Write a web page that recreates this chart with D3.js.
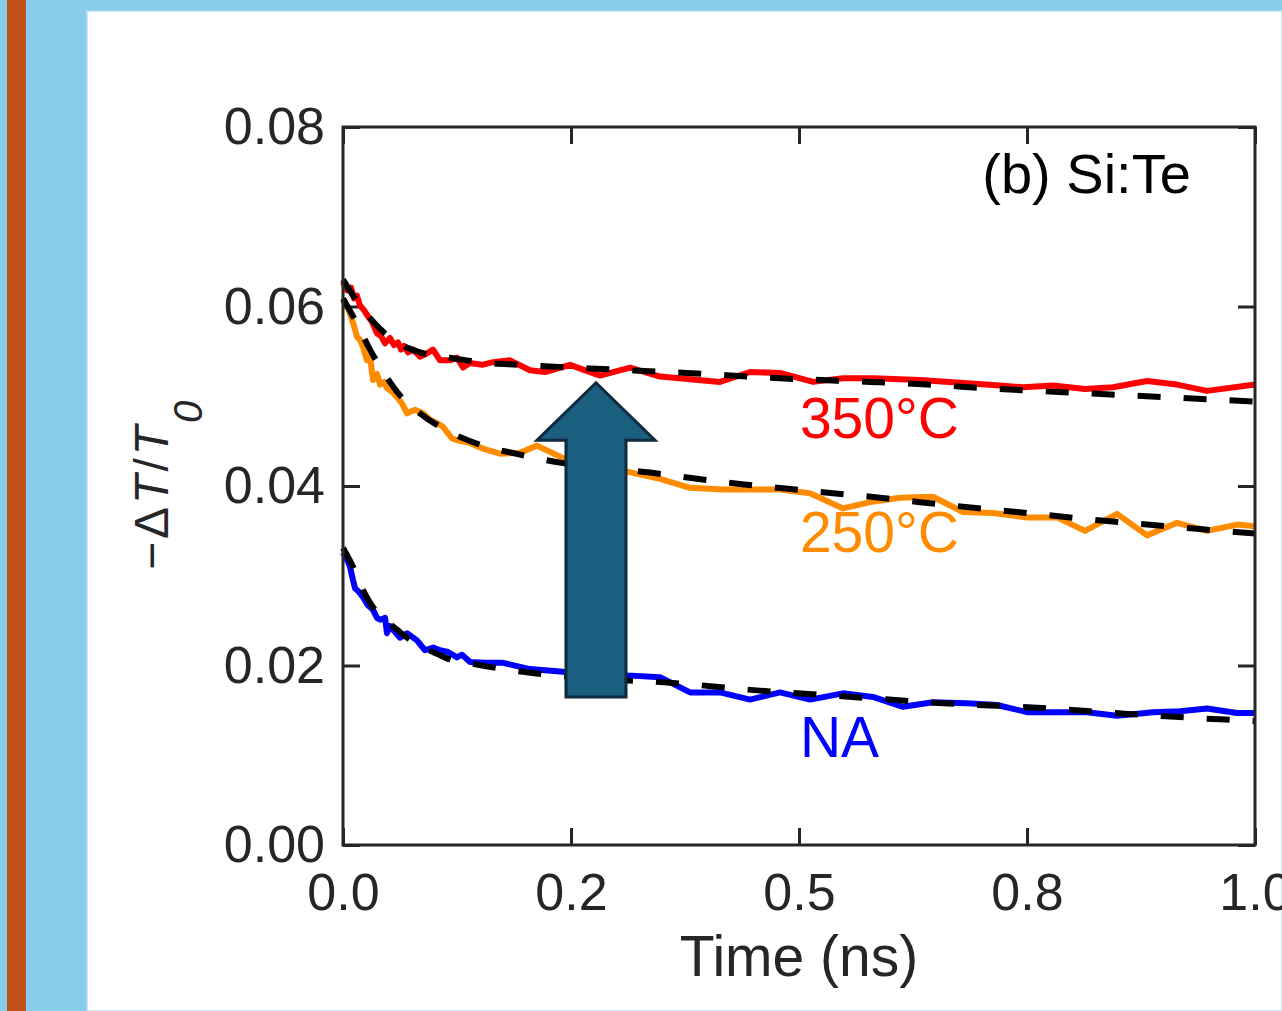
<!DOCTYPE html>
<html>
<head>
<meta charset="utf-8">
<script src="https://cdn.jsdelivr.net/npm/d3@7"></script>
<style>
  body { margin: 0; background: #87cceb; }
  .chart { position: relative; width: 1282px; height: 1011px; overflow: hidden; }
  text { font-family: "Liberation Sans", Arial, sans-serif; }
</style>
</head>
<body>
<div class="chart"></div>
<script>
// measured traces, time (ns) vs -dT/T0
var na = [[0,0.0326],[0.0044,0.0318],[0.0077,0.0310],[0.0110,0.0295],[0.0132,0.0286],[0.0175,0.0282],
  [0.0219,0.0276],[0.0274,0.0267],[0.0329,0.0262],[0.0373,0.0253],[0.0406,0.0251],[0.0461,0.0253],
  [0.0482,0.0236],[0.0515,0.0244],[0.0548,0.0240],[0.0625,0.0231],[0.0702,0.0236],[0.0811,0.0228],
  [0.0899,0.0217],[0.0987,0.0220],[0.1064,0.0217],[0.1151,0.0215],[0.1250,0.0209],[0.1305,0.0212],
  [0.1393,0.0204],[0.1557,0.0203],[0.1754,0.0203],[0.2050,0.0196],[0.2412,0.0193],[0.2785,0.0192],
  [0.3114,0.0189],[0.3476,0.0187],[0.3805,0.0170],[0.4134,0.0170],[0.4463,0.0162],[0.4792,0.0170],
  [0.5121,0.0162],[0.5482,0.0169],[0.5811,0.0165],[0.6140,0.0154],[0.6469,0.0159],[0.6842,0.0158],
  [0.7171,0.0156],[0.7500,0.0148],[0.7829,0.0148],[0.8158,0.0148],[0.8487,0.0144],[0.8882,0.0148],
  [0.9178,0.0149],[0.9474,0.0152],[0.9803,0.0147],[1.0,0.0147]];

var c250 = [[0,0.0607],[0.0055,0.0598],[0.0110,0.0582],[0.0154,0.0566],[0.0186,0.0563],[0.0219,0.0555],
  [0.0263,0.0540],[0.0296,0.0545],[0.0329,0.0518],[0.0373,0.0525],[0.0406,0.0513],[0.0450,0.0516],
  [0.0482,0.0509],[0.0537,0.0505],[0.0592,0.0499],[0.0647,0.0492],[0.0702,0.0481],[0.0789,0.0485],
  [0.0877,0.0481],[0.0954,0.0474],[0.1031,0.0470],[0.1096,0.0466],[0.1195,0.0453],[0.1283,0.0450],
  [0.1393,0.0448],[0.1524,0.0442],[0.1721,0.0436],[0.1941,0.0437],[0.2127,0.0445],[0.2456,0.0429],
  [0.2785,0.0422],[0.3114,0.0416],[0.3476,0.0408],[0.3805,0.0398],[0.4167,0.0396],[0.4792,0.0396],
  [0.5121,0.0392],[0.5482,0.0375],[0.5779,0.0382],[0.6107,0.0387],[0.6469,0.0388],[0.6798,0.0371],
  [0.7127,0.0370],[0.7500,0.0365],[0.7829,0.0365],[0.8136,0.0350],[0.8487,0.0369],[0.8816,0.0345],
  [0.9145,0.0359],[0.9474,0.0350],[0.9803,0.0357],[1.0,0.0355]];

var c350 = [[0,0.0627],[0.0044,0.0618],[0.0088,0.0621],[0.0121,0.0609],[0.0154,0.0612],[0.0186,0.0601],
  [0.0230,0.0596],[0.0274,0.0589],[0.0318,0.0583],[0.0373,0.0570],[0.0417,0.0567],[0.0461,0.0559],
  [0.0515,0.0565],[0.0559,0.0557],[0.0603,0.0560],[0.0636,0.0552],[0.0669,0.0556],[0.0713,0.0549],
  [0.0768,0.0552],[0.0844,0.0544],[0.0910,0.0547],[0.0987,0.0552],[0.1064,0.0540],[0.1173,0.0540],
  [0.1250,0.0543],[0.1316,0.0532],[0.1393,0.0537],[0.1524,0.0535],[0.1645,0.0538],[0.1831,0.0540],
  [0.2050,0.0529],[0.2215,0.0527],[0.2489,0.0535],[0.2818,0.0523],[0.3147,0.0532],[0.3476,0.0522],
  [0.3805,0.0519],[0.4134,0.0516],[0.4463,0.0527],[0.4792,0.0526],[0.5154,0.0516],[0.5482,0.0520],
  [0.5811,0.0520],[0.6327,0.0518],[0.6765,0.0515],[0.7204,0.0512],[0.7456,0.0510],[0.7785,0.0512],
  [0.8136,0.0508],[0.8443,0.0510],[0.8816,0.0517],[0.9145,0.0513],[0.9474,0.0506],[1.0,0.0513]];

// fitted curves (dashed)
var fitNA = [[0,0.0331],[0.0110,0.0310],[0.0219,0.0284],[0.0329,0.0265],[0.0461,0.0251],[0.0592,0.0240],
  [0.0702,0.0231],[0.0844,0.0222],[0.0987,0.0215],[0.1140,0.0208],[0.1469,0.0201],[0.1974,0.0193],
  [0.2818,0.0185],[0.3553,0.0181],[0.4572,0.0172],[0.5581,0.0165],[0.6579,0.0158],[0.7610,0.0153],
  [0.8607,0.0146],[0.9616,0.0140],[1.0,0.0138]];
var fit250 = [[0,0.0609],[0.0132,0.0585],[0.0296,0.0552],[0.0461,0.0524],[0.0625,0.0501],[0.0844,0.0481],
  [0.1173,0.0460],[0.1502,0.0446],[0.1941,0.0435],[0.2379,0.0426],[0.3366,0.0415],[0.3882,0.0408],
  [0.4375,0.0402],[0.4879,0.0397],[0.5373,0.0392],[0.5888,0.0387],[0.6327,0.0382],[0.7390,0.0371],
  [0.8377,0.0361],[0.9397,0.0352],[1.0,0.0347]];
var fit350 = [[0,0.0630],[0.0132,0.0609],[0.0296,0.0587],[0.0461,0.0570],[0.0625,0.0558],[0.0844,0.0549],
  [0.1173,0.0543],[0.1502,0.0538],[0.1941,0.0535],[0.2708,0.0531],[0.3772,0.0526],[0.4792,0.0520],
  [0.5779,0.0516],[0.6250,0.0514],[0.7204,0.0508],[0.8213,0.0503],[1.0,0.0494]];

var seriesNames = ["NA", "250°C", "350°C"];
var seriesColors = ["#0000ff", "#ff8c00", "#ff0000"];
var seriesLabelPos = [[0.501, 0.0098], [0.501, 0.0326], [0.501, 0.0453]];

var yTicks = [0, 0.02, 0.04, 0.06, 0.08];
var xTicks = [0, 0.25, 0.5, 0.75, 1];
var xTickLabels = ["0.0", "0.2", "0.5", "0.8", "1.0"];

// big arrow annotation (data coords)
var arrowTip = [0.2774, 0.0515];
var arrowHeadBase = 0.0451;
var arrowTail = 0.0165;
var arrowShaftHalf = 0.0329;
var arrowHeadHalf = 0.0647;

var svgWidth = 1282;
var svgHeight = 1011;
var margin = {top: 127, right: 27, bottom: 166, left: 343};
var width = svgWidth - margin.left - margin.right;
var height = svgHeight - margin.top - margin.bottom;

var svg = d3.select(".chart").append("svg")
  .attr("width", svgWidth)
  .attr("height", svgHeight);

// slide background bits
svg.append("rect").attr("x", 0).attr("y", 0).attr("width", svgWidth).attr("height", svgHeight).attr("fill", "#87cceb");
svg.append("rect").attr("x", 7).attr("y", 0).attr("width", 19).attr("height", svgHeight).attr("fill", "#c1521a");
svg.append("rect").attr("x", 87).attr("y", 11).attr("width", svgWidth - 87).attr("height", svgHeight - 11)
  .attr("fill", "#ffffff").attr("stroke", "#b5e0f4").attr("stroke-width", 1.5);

var chartGroup = svg.append("g")
  .attr("transform", `translate(${margin.left}, ${margin.top})`);

var xScale = d3.scaleLinear().domain([0, 1]).range([0, width]);
var yScale = d3.scaleLinear().domain([0, 0.08]).range([height, 0]);

var axisColor = "#262626";
var tickLen = 17;

function styleAxis(g) {
  g.select(".domain").remove();
  g.selectAll(".tick line").attr("stroke", axisColor).attr("stroke-width", 3);
  g.selectAll(".tick text").attr("fill", axisColor).attr("font-size", 52)
    .attr("font-family", "'Liberation Sans', Arial, sans-serif");
}

chartGroup.append("g")
  .call(d3.axisLeft(yScale).tickValues(yTicks).tickSize(-tickLen).tickPadding(18).tickFormat(d3.format(".2f")))
  .call(styleAxis);
chartGroup.append("g")
  .attr("transform", `translate(${width},0)`)
  .call(d3.axisRight(yScale).tickValues(yTicks).tickSize(-tickLen).tickFormat(""))
  .call(styleAxis);
chartGroup.append("g")
  .attr("transform", `translate(0,${height})`)
  .call(d3.axisBottom(xScale).tickValues(xTicks).tickSize(-tickLen).tickPadding(28)
    .tickFormat((d, i) => xTickLabels[i]))
  .call(styleAxis);
chartGroup.append("g")
  .call(d3.axisTop(xScale).tickValues(xTicks).tickSize(-tickLen).tickFormat(""))
  .call(styleAxis);

var line = d3.line()
  .x(d => xScale(d[0]))
  .y(d => yScale(d[1]));
var fitLine = d3.line()
  .curve(d3.curveMonotoneX)
  .x(d => xScale(d[0]))
  .y(d => yScale(d[1]));

var data = [na, c250, c350];
var fits = [fitNA, fit250, fit350];

data.forEach(function(s, i) {
  chartGroup.append("path")
    .datum(s)
    .attr("d", line)
    .attr("fill", "none")
    .attr("stroke", seriesColors[i])
    .attr("stroke-width", 6)
    .attr("stroke-linejoin", "round");
});

fits.forEach(function(s) {
  chartGroup.append("path")
    .datum(s)
    .attr("d", fitLine)
    .attr("fill", "none")
    .attr("stroke", "#000")
    .attr("stroke-width", 6)
    .attr("stroke-dasharray", "23,23");
});

// arrow
var ax = arrowTip[0];
var arrowPts = [
  [ax, arrowTip[1]],
  [ax + arrowHeadHalf, arrowHeadBase],
  [ax + arrowShaftHalf, arrowHeadBase],
  [ax + arrowShaftHalf, arrowTail],
  [ax - arrowShaftHalf, arrowTail],
  [ax - arrowShaftHalf, arrowHeadBase],
  [ax - arrowHeadHalf, arrowHeadBase]
];
chartGroup.append("polygon")
  .attr("points", arrowPts.map(p => xScale(p[0]) + "," + yScale(p[1])).join(" "))
  .attr("fill", "#1a5e80")
  .attr("stroke", "#0e2a3b")
  .attr("stroke-width", 3)
  .attr("stroke-linejoin", "miter");

// series labels
seriesNames.forEach(function(n, i) {
  chartGroup.append("text")
    .attr("x", xScale(seriesLabelPos[i][0]))
    .attr("y", yScale(seriesLabelPos[i][1]))
    .attr("fill", seriesColors[i])
    .attr("font-size", 57)
    .text(n);
});

// panel tag
chartGroup.append("text")
  .attr("x", xScale(0.701))
  .attr("y", yScale(0.0726))
  .attr("fill", "#000")
  .attr("font-size", 56)
  .text("(b) Si:Te");

// frame box
chartGroup.append("rect")
  .attr("x", 0).attr("y", 0)
  .attr("width", width).attr("height", height)
  .attr("fill", "none")
  .attr("stroke", axisColor)
  .attr("stroke-width", 3);

// axis titles
svg.append("text")
  .attr("x", margin.left + width / 2)
  .attr("y", 976)
  .attr("text-anchor", "middle")
  .attr("fill", axisColor)
  .attr("font-size", 57)
  .text("Time (ns)");

var yLab = svg.append("text")
  .attr("transform", "translate(168,570) rotate(-90)")
  .attr("fill", axisColor)
  .attr("font-size", 48)
  .attr("letter-spacing", 3);
yLab.append("tspan").text("\u2212\u0394");
yLab.append("tspan").attr("font-style", "italic").text("T");
yLab.append("tspan").text("/");
yLab.append("tspan").attr("font-style", "italic").text("T");
yLab.append("tspan").attr("font-style", "italic").attr("font-size", 40).attr("dy", 34).text("0");
</script>
</body>
</html>
